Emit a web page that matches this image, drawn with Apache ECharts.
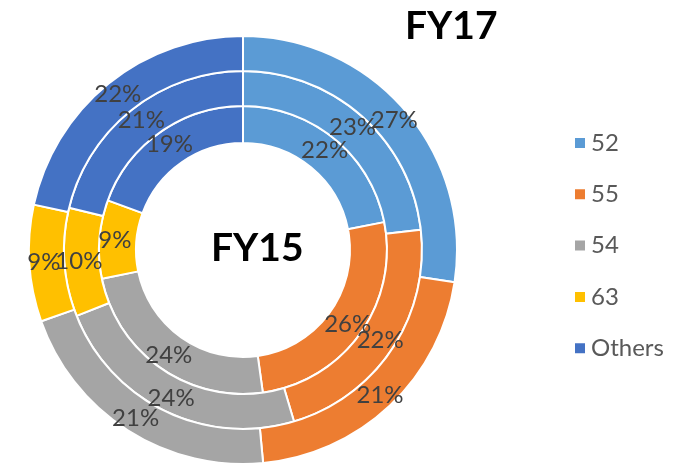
<!DOCTYPE html>
<html>
<head>
<meta charset="utf-8">
<script src="https://cdn.jsdelivr.net/npm/echarts@6/dist/echarts.min.js"></script>
<style>html,body{margin:0;padding:0;background:#fff;}#main{width:683px;height:464px;}</style>
</head>
<body>
<div id="main"></div>
<script>
const categories = ['52', '55', '54', '63', 'Others'];
const fy15 = [21.9, 25.9, 24.0, 8.8, 19.4];
const fy16 = [23.2, 22.2, 23.6, 9.8, 21.2];
const fy17 = [27.4, 21.1, 21.1, 8.8, 21.6];
const colors = ['#5B9BD5', '#ED7D31', '#A5A5A5', '#FFC000', '#4472C4'];

const FONT = 'Lato, "Liberation Sans", sans-serif';
function ring(name, values, radius) {
  return {
    name: name,
    type: 'pie',
    center: [243, 250],
    radius: radius,
    startAngle: 90,
    clockwise: true,
    animation: false,
    silent: true,
    avoidLabelOverlap: false,
    itemStyle: { borderColor: '#ffffff', borderWidth: 2 },
    label: {
      show: true,
      position: 'inside',
      formatter: p => Math.round(p.percent) + '%',
      color: '#404040',
      fontSize: 24,
      fontFamily: FONT
    },
    labelLayout: { hideOverlap: false },
    labelLine: { show: false },
    data: categories.map((c, i) => ({ name: c, value: values[i] }))
  };
}

const chart = echarts.init(document.getElementById('main'));
chart.setOption({
  color: colors,
  title: [
    { text: 'FY17', left: 405, top: 7, padding: 0,
      textStyle: { fontSize: 39, fontWeight: 'bold', color: '#000', fontFamily: FONT } },
    { text: 'FY15', left: 211, top: 229, padding: 0,
      textStyle: { fontSize: 39, fontWeight: 'bold', color: '#000', fontFamily: FONT } }
  ],
  legend: {
    orient: 'vertical',
    left: 568,
    top: 126,
    icon: 'rect',
    itemWidth: 12,
    itemHeight: 12,
    itemGap: 27.3,
    textStyle: { fontSize: 24, lineHeight: 24, color: '#595959', fontFamily: FONT, padding: [0, 0, 0, 0] },
    data: categories
  },
  series: [
    ring('FY15', fy15, [107, 144]),
    ring('FY16', fy16, [144, 179]),
    ring('FY17', fy17, [179, 214])
  ]
});
</script>
</body>
</html>
